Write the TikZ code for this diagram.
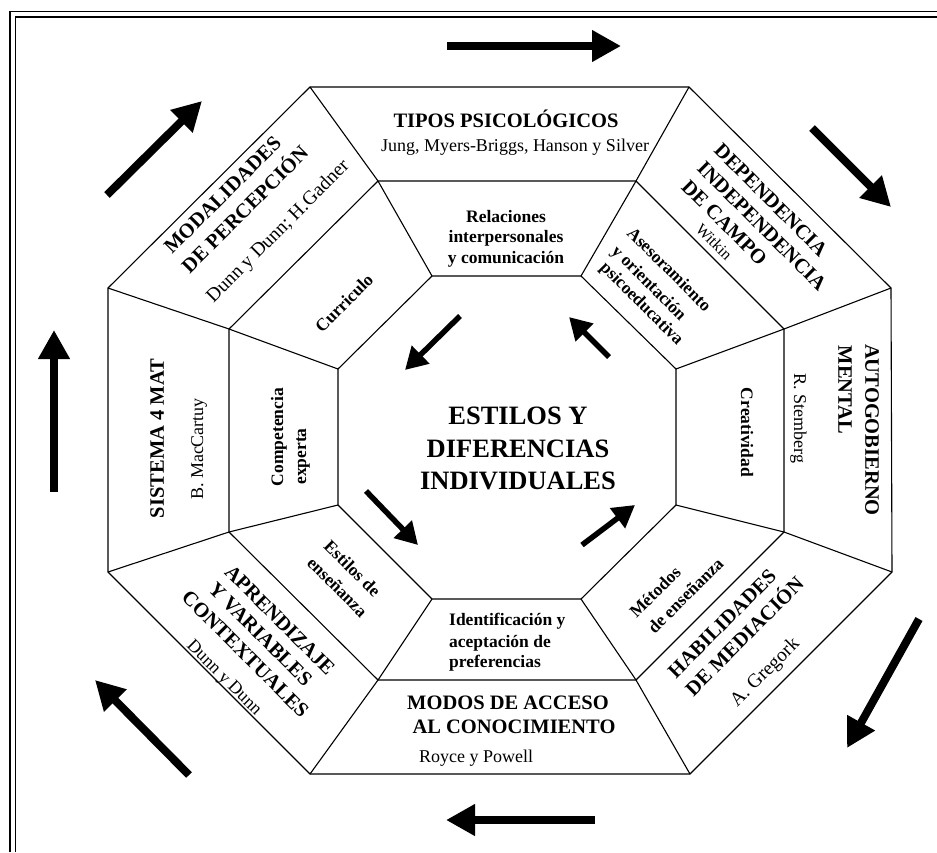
\documentclass[tikz,border=0pt]{standalone}
\usepackage{fontspec}
\setmainfont{Liberation Serif}
\usetikzlibrary{arrows.meta}
\begin{document}
\begin{tikzpicture}[x=1pt,y=-1pt,
  edge/.style={line width=1.1pt,line join=miter},
  frm/.style={line width=1.7pt},
  bigarrow/.style={line width=8pt,-{Triangle[length=29pt,width=30pt]}},
  smallarrow/.style={line width=5.5pt,-{Triangle[length=22pt,width=24pt]}},
  ttl/.style={inner sep=0pt,font=\fontsize{20.5}{24}\selectfont\bfseries,text height=13.5pt,text depth=0pt},
  auth/.style={inner sep=0pt,font=\fontsize{18}{21}\selectfont,text height=12pt,text depth=0pt},
  authbig/.style={auth,font=\fontsize{19.5}{23}\selectfont},
  authsmall/.style={auth,font=\fontsize{16}{19}\selectfont,text height=10.5pt},
  mid/.style={inner sep=0pt,font=\fontsize{17.5}{21}\selectfont\bfseries,text height=12pt,text depth=0pt},
  ctr/.style={inner sep=0pt,font=\fontsize{26.5}{32}\selectfont\bfseries}
]
\useasboundingbox (0,0) rectangle (937,852);
\fill[white] (0,0) rectangle (937,852);
% frame
\draw[frm] (10,852) -- (10,11.5) -- (937,11.5);
\draw[frm] (15.5,852) -- (15.5,17) -- (937,17);
% octagon points
\coordinate (O1) at (310,87);  \coordinate (O2) at (689,87);
\coordinate (O3) at (891,288); \coordinate (O4) at (892,572);
\coordinate (O5) at (690,774); \coordinate (O6) at (310,774);
\coordinate (O7) at (108,572); \coordinate (O8) at (108,288);
\coordinate (M1) at (378,181); \coordinate (M2) at (636,181);
\coordinate (M3) at (784,329); \coordinate (M4) at (784,532);
\coordinate (M5) at (636,680); \coordinate (M6) at (378,680);
\coordinate (M7) at (229,532); \coordinate (M8) at (229,329);
\coordinate (I1) at (432,276); \coordinate (I2) at (581,276);
\coordinate (I3) at (676,369); \coordinate (I4) at (676,505);
\coordinate (I5) at (581,599); \coordinate (I6) at (432,599);
\coordinate (I7) at (338,505); \coordinate (I8) at (338,369);
\draw[edge] (O1)--(O2)--(O3)--(O4)--(O5)--(O6)--(O7)--(O8)--cycle;
\draw[edge] (M1)--(M2)--(M3)--(M4)--(M5)--(M6)--(M7)--(M8)--cycle;
\draw[edge] (I1)--(I2)--(I3)--(I4)--(I5)--(I6)--(I7)--(I8)--cycle;
\foreach \k in {1,...,8}{\draw[edge] (O\k)--(M\k)--(I\k);}
% outer arrows
\coordinate (a1s) at (447,46);  \coordinate (a1e) at (621,46);
\coordinate (a2s) at (812,128); \coordinate (a2e) at (891,207);
\coordinate (a3s) at (919,619); \coordinate (a3e) at (847,748);
\coordinate (a4s) at (595,820); \coordinate (a4e) at (446,820);
\coordinate (a5s) at (189,775); \coordinate (a5e) at (95,680);
\coordinate (a6s) at (54,492);  \coordinate (a6e) at (54,330);
\coordinate (a7s) at (107,195); \coordinate (a7e) at (202,101);
\foreach \k in {1,...,7}{\draw[bigarrow] (a\k s) -- (a\k e);}
% inner arrows
\coordinate (b1s) at (460,316); \coordinate (b1e) at (405,370);
\coordinate (b2s) at (609,357); \coordinate (b2e) at (569,317);
\coordinate (b3s) at (366,491); \coordinate (b3e) at (418,545);
\coordinate (b4s) at (582,545); \coordinate (b4e) at (635,505);
\foreach \k in {1,...,4}{\draw[smallarrow] (b\k s) -- (b\k e);}
% centre
\node[ctr,anchor=base] (c1) at (518,424) {ESTILOS Y};
\node[ctr,anchor=base] (c2) at (518,457) {DIFERENCIAS};
\node[ctr,anchor=base] (c3) at (518,489) {INDIVIDUALES};
% top
\node[ttl,anchor=base] (t1) at (506,127) {TIPOS PSICOLÓGICOS};
\node[auth,anchor=base] (t2) at (515,151) {Jung, Myers-Briggs, Hanson y Silver};
% top right
\node[ttl,rotate=-45] (tr1) at (771,200) {DEPENDENCIA};
\node[ttl,rotate=-45] (tr2) at (762,226) {INDEPENDENCIA};
\node[ttl,rotate=-45] (tr3) at (724.5,222.5) {DE CAMPO};
\node[authsmall,rotate=-45] (tr4) at (714,242) {Witkin};
% right
\node[ttl,rotate=-90] (r1) at (872,430) {AUTOGOBIERNO};
\node[ttl,rotate=-90] (r2) at (845,390) {MENTAL};
\node[auth,rotate=-90] (r3) at (800,418.5) {R. Stemberg};
% bottom right
\node[ttl,rotate=45] (br1) at (722,623.5) {HABILIDADES};
\node[ttl,rotate=45] (br2) at (744.5,636.5) {DE MEDIACIÓN};
\node[authbig,rotate=45] (br3) at (764.5,672) {A. Gregork};
% bottom
\node[ttl,anchor=base] (b1) at (508,709) {MODOS DE ACCESO};
\node[ttl,anchor=base] (b2) at (514,733) {AL CONOCIMIENTO};
\node[auth,anchor=base west] (b3) at (419,762) {Royce y Powell};
% bottom left
\node[ttl,rotate=-45] (bl1) at (280,620) {APRENDIZAJE};
\node[ttl,rotate=-45] (bl2) at (260.5,634) {Y VARIABLES};
\node[ttl,rotate=-45] (bl3) at (245.5,654) {CONTEXTUALES};
\node[auth,rotate=-45] (bl4) at (225,677) {Dunn y Dunn};
% left
\node[ttl,rotate=90] (l1) at (157,438.5) {SISTEMA 4 MAT};
\node[auth,rotate=90] (l2) at (197,449) {B. MacCartuy};
% top left
\node[ttl,rotate=45] (tl1) at (222.5,195) {MODALIDADES};
\node[ttl,rotate=45] (tl2) at (245,209.5) {DE PERCEPCIÓN};
\node[authbig,rotate=45] (tl3) at (277.5,231) {Dunn y Dunn; H.Gadner};
% middle ring
\node[mid,anchor=base] (m1a) at (506,222) {Relaciones};
\node[mid,anchor=base] (m1b) at (506,242) {interpersonales};
\node[mid,anchor=base] (m1c) at (506,263) {y comunicación};
\node[mid,rotate=-45] (m2a) at (669.5,269) {Asesoramiento};
\node[mid,rotate=-45] (m2b) at (649.5,282.5) {y orientación};
\node[mid,rotate=-45] (m2c) at (642.5,303) {psicoeducativa};
\node[mid,rotate=-90] (m3) at (747,432.5) {Creatividad};
\node[mid,rotate=45] (m4a) at (655,592) {Métodos};
\node[mid,rotate=45] (m4b) at (685.5,595.5) {de enseñanza};
\node[mid,anchor=base west] (m5a) at (449,625) {Identificación y};
\node[mid,anchor=base west] (m5b) at (449,647) {aceptación de};
\node[mid,anchor=base west] (m5c) at (449,667) {preferencias};
\node[mid,rotate=-45] (m6a) at (352.5,568.5) {Estilos de};
\node[mid,rotate=-45] (m6b) at (337.5,587) {enseñanza};
\node[mid,rotate=90] (m7a) at (277,437) {Competencia};
\node[mid,rotate=90] (m7b) at (300,456.5) {experta};
\node[mid,rotate=45] (m8) at (344,303) {Curriculo};
\end{tikzpicture}
\end{document}
